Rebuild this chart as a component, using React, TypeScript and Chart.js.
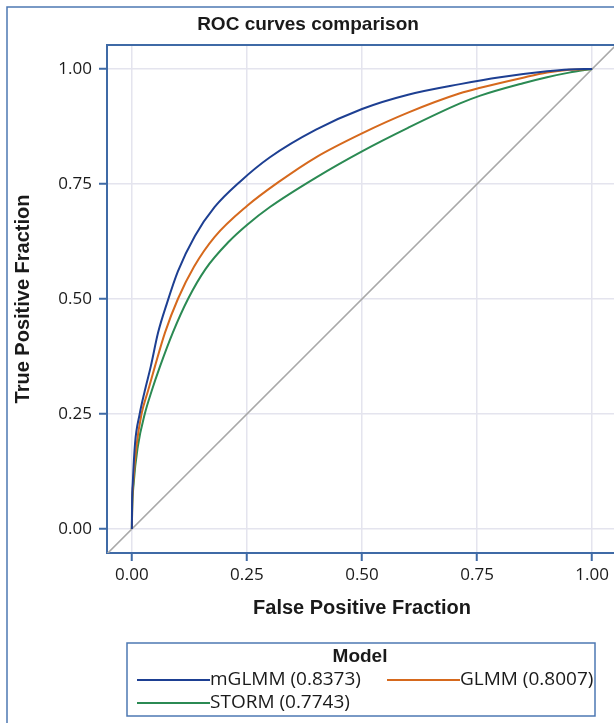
import React, { useEffect, useRef } from "react";
import { Chart, registerables } from "chart.js";

Chart.register(...registerables);

const chartTitle = "ROC curves comparison";
const xAxisTitle = "False Positive Fraction";
const yAxisTitle = "True Positive Fraction";
const legendTitle = "Model";

const seriesNames = ["mGLMM (0.8373)", "GLMM (0.8007)", "STORM (0.7743)"];
const seriesColors = ["#1d3f92", "#d6691d", "#2b8a53"];

const mglmmFpr = [0, 0.0005, 0.002, 0.007, 0.017, 0.028, 0.041, 0.057, 0.076, 0.1, 0.137, 0.18, 0.235, 0.3, 0.4, 0.5, 0.6, 0.713, 0.8, 0.902, 0.95, 1.0];
const mglmmTpr = [0, 0.06, 0.1, 0.187, 0.25, 0.3, 0.353, 0.427, 0.49, 0.56, 0.637, 0.7, 0.755, 0.808, 0.868, 0.913, 0.944, 0.967, 0.982, 0.995, 0.999, 1.0];

const glmmFpr = [0, 0.001, 0.003, 0.01, 0.021, 0.035, 0.05, 0.072, 0.1, 0.135, 0.18, 0.25, 0.32, 0.4, 0.5, 0.6, 0.713, 0.757, 0.85, 0.902, 0.95, 1.0];
const glmmTpr = [0, 0.063, 0.1, 0.18, 0.25, 0.3, 0.353, 0.427, 0.5, 0.57, 0.635, 0.702, 0.755, 0.808, 0.86, 0.905, 0.947, 0.959, 0.981, 0.992, 0.998, 1.0];

const stormFpr = [0, 0.0005, 0.004, 0.013, 0.028, 0.043, 0.061, 0.089, 0.122, 0.16, 0.211, 0.25, 0.3, 0.4, 0.5, 0.6, 0.713, 0.757, 0.85, 0.902, 0.95, 1.0];
const stormTpr = [0, 0.035, 0.1, 0.18, 0.25, 0.3, 0.353, 0.427, 0.5, 0.565, 0.625, 0.661, 0.7, 0.764, 0.821, 0.872, 0.925, 0.942, 0.969, 0.982, 0.992, 1.0];

const diagonalFpr = [-0.1, 1.1];
const diagonalTpr = [-0.1, 1.1];

const tickValues = [0, 0.25, 0.5, 0.75, 1.0];

const FRAME = "#3f6aa6";
const GRID = "#e4e4ee";
const TEXT = "#1a1a1a";

function pts(xs: number[], ys: number[]) {
  return xs.map((x, i) => ({ x, y: ys[i] }));
}

const decorPlugin = {
  id: "decor",
  beforeDraw(chart: any) {
    const ctx = chart.ctx;
    ctx.save();
    ctx.fillStyle = "#ffffff";
    ctx.fillRect(0, 0, chart.width, chart.height);
    ctx.restore();
  },
  afterDraw(chart: any) {
    const ctx = chart.ctx;
    const a = chart.chartArea;
    ctx.save();
    ctx.strokeStyle = "#4d78b3";
    ctx.lineWidth = 1.5;
    ctx.strokeRect(7, 7, 900, 900);
    ctx.strokeStyle = FRAME;
    ctx.lineWidth = 2;
    ctx.beginPath();
    ctx.moveTo(a.left - 1, a.top);
    ctx.lineTo(a.right, a.top);
    ctx.lineTo(a.right, a.bottom);
    ctx.stroke();

    ctx.fillStyle = TEXT;
    ctx.textAlign = "center";
    ctx.textBaseline = "middle";
    ctx.font = "bold 19px 'Liberation Sans', Arial, sans-serif";
    ctx.fillText(chartTitle, 308, 25);

    ctx.font = "bold 20px 'Liberation Sans', Arial, sans-serif";
    ctx.fillText(xAxisTitle, 362, 608);
    ctx.save();
    ctx.translate(23, (a.top + a.bottom) / 2);
    ctx.rotate(-Math.PI / 2);
    ctx.fillText(yAxisTitle, 0, 0);
    ctx.restore();

    const lx = 127, ly = 643, lw = 468, lh = 73;
    ctx.strokeStyle = "#4d78b3";
    ctx.lineWidth = 1.5;
    ctx.strokeRect(lx, ly, lw, lh);
    ctx.font = "bold 19px 'Liberation Sans', Arial, sans-serif";
    ctx.fillText(legendTitle, 360, 657);

    const ds = chart.data.datasets;
    const entries = [
      { i: 0, x: 137, y: 680 },
      { i: 1, x: 387, y: 680 },
      { i: 2, x: 137, y: 703 },
    ];
    ctx.font = "19px 'Open Sans', sans-serif";
    ctx.textAlign = "left";
    for (const e of entries) {
      ctx.strokeStyle = ds[e.i].borderColor;
      ctx.lineWidth = 2;
      ctx.beginPath();
      ctx.moveTo(e.x, e.y);
      ctx.lineTo(e.x + 73, e.y);
      ctx.stroke();
      ctx.fillStyle = TEXT;
      ctx.fillText(ds[e.i].label, e.x + 73, e.y);
    }
    ctx.restore();
  },
};

export default function App() {
  const ref = useRef<HTMLCanvasElement | null>(null);

  useEffect(() => {
    if (!ref.current) return;
    const tickFont = { family: "'Open Sans', sans-serif", size: 17 };
    const curve = { borderWidth: 2, pointRadius: 0, cubicInterpolationMode: "monotone", fill: false };
    const chart = new Chart(ref.current, {
      type: "line",
      data: {
        datasets: [
          { label: seriesNames[0], data: pts(mglmmFpr, mglmmTpr), borderColor: seriesColors[0], ...curve },
          { label: seriesNames[1], data: pts(glmmFpr, glmmTpr), borderColor: seriesColors[1], ...curve },
          { label: seriesNames[2], data: pts(stormFpr, stormTpr), borderColor: seriesColors[2], ...curve },
          { label: "diagonal", data: pts(diagonalFpr, diagonalTpr), borderColor: "#a9a9a9", borderWidth: 1.5, pointRadius: 0, tension: 0, fill: false },
        ],
      },
      options: {
        animation: false,
        responsive: false,
        devicePixelRatio: 1,
        layout: { padding: { top: 45, right: 23, left: 0, bottom: 0 } },
        plugins: {
          legend: { display: false },
          title: { display: false },
          tooltip: { enabled: false },
        },
        scales: {
          x: {
            type: "linear",
            min: -0.054,
            max: 1.054,
            afterBuildTicks: (s: any) => {
              s.ticks = tickValues.map((v) => ({ value: v }));
            },
            afterFit: (s: any) => {
              s.height = 170;
            },
            ticks: {
              callback: (v: any) => Number(v).toFixed(2),
              font: tickFont,
              color: TEXT,
              padding: 4,
              maxRotation: 0,
              autoSkip: false,
            },
            grid: { color: GRID, lineWidth: 1.5, tickLength: 8, tickColor: FRAME, tickWidth: 2 },
            border: { color: FRAME, width: 2 },
          },
          y: {
            type: "linear",
            min: -0.052,
            max: 1.052,
            afterBuildTicks: (s: any) => {
              s.ticks = tickValues.map((v) => ({ value: v }));
            },
            afterFit: (s: any) => {
              s.width = 107;
            },
            ticks: {
              callback: (v: any) => Number(v).toFixed(2),
              font: tickFont,
              color: TEXT,
              padding: 7,
              autoSkip: false,
            },
            grid: { color: GRID, lineWidth: 1.5, tickLength: 8, tickColor: FRAME, tickWidth: 2 },
            border: { color: FRAME, width: 2 },
          },
        },
      },
      plugins: [decorPlugin],
    } as any);
    return () => chart.destroy();
  }, []);

  return (
    <div style={{ position: "fixed", left: 0, top: 0, width: 614, height: 723, overflow: "hidden", background: "#fff" }}>
      <canvas ref={ref} width={640} height={723} style={{ display: "block" }} />
    </div>
  );
}
